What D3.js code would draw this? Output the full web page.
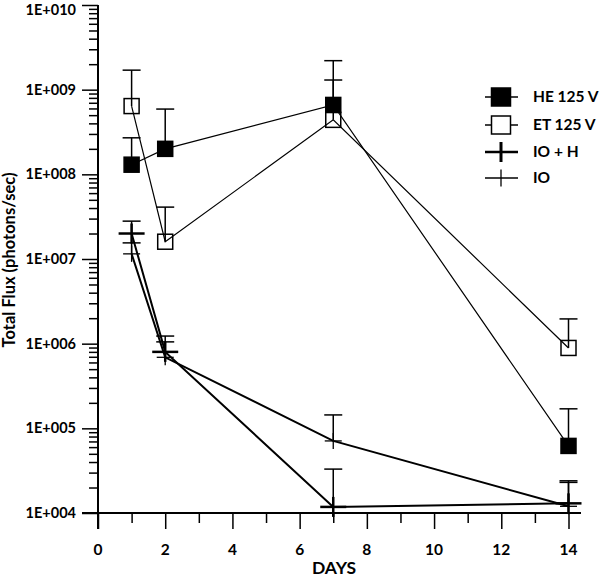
<!DOCTYPE html>
<html>
<head>
<meta charset="utf-8">
<script src="https://cdn.jsdelivr.net/npm/d3@7"></script>
<style>
  body { margin: 0; background: #fff; }
  text { font-family: Lato, "Liberation Sans", sans-serif; font-weight: bold; fill: #000; }
</style>
</head>
<body>
<div id="chart"></div>
<script>
var days = [1, 2, 7, 14];
var xTicks = [0, 2, 4, 6, 8, 10, 12, 14];
var yTickLabels = ["1E+004", "1E+005", "1E+006", "1E+007", "1E+008", "1E+009", "1E+010"];

// value and top of the error bar for each day
var heValues = [1.3e8, 2.0e8, 6.6e8, 6.2e4];
var heErrTop = [2.7e8, 5.9e8, 2.2e9, 1.7e5];
var etValues = [6.4e8, 1.6e7, 4.4e8, 8.9e5];
var etErrTop = [1.7e9, 4.1e7, 1.3e9, 1.96e6];
var iohValues = [2.0e7, 8.0e5, 1.18e4, 1.3e4];
var iohErrTop = [2.8e7, 1.23e6, 3.3e4, 2.4e4];
var ioValues = [1.15e7, 6.9e5, 7.1e4, 1.2e4];
var ioErrTop = [1.55e7, 1.05e6, 1.44e5, 2.3e4];

var seriesNames = ["HE 125 V", "ET 125 V", "IO + H", "IO"];

var width = 600, height = 580;

var svg = d3.select("#chart").append("svg")
  .attr("width", width)
  .attr("height", height);

var x = d3.scaleLinear().domain([0, 14]).range([98, 568.5]);
var y = d3.scaleLog().domain([1e4, 1e10]).range([513, 5]);

// y axis with log minor ticks
var yAxis = d3.axisLeft(y)
  .tickValues(y.ticks())
  .tickSize(9)
  .tickSizeOuter(0)
  .tickFormat("");
var gy = svg.append("g").attr("transform", "translate(98,0)").call(yAxis);
gy.select(".domain").remove();
gy.selectAll(".tick line").attr("stroke", "#000").attr("stroke-width", 1.5)
  .attr("x2", (d) => (Math.abs(Math.log10(d) % 1) < 1e-9 ? -16 : -9));
svg.append("line")
  .attr("x1", 98).attr("x2", 98).attr("y1", 5).attr("y2", 529)
  .attr("stroke", "#000").attr("stroke-width", 2);

yTickLabels.forEach(function (t, i) {
  svg.append("text")
    .attr("x", 76)
    .attr("y", Math.max(y(Math.pow(10, 4 + i)), 10))
    .attr("dy", "0.35em")
    .attr("text-anchor", "end")
    .attr("font-size", 14.5)
    .text(t);
});

// x axis
var xAxis = d3.axisBottom(x)
  .tickValues(d3.range(0, 15))
  .tickSizeOuter(0)
  .tickFormat("");
var gx = svg.append("g").attr("transform", "translate(0,513)").call(xAxis);
gx.select(".domain").remove();
gx.selectAll(".tick line").attr("stroke", "#000").attr("stroke-width", 1.5)
  .attr("y2", (d) => (d % 2 == 0 ? 16 : 10));
svg.append("line")
  .attr("x1", 82).attr("x2", 581).attr("y1", 513).attr("y2", 513)
  .attr("stroke", "#000").attr("stroke-width", 2);

svg.selectAll(".xlabel")
  .data(xTicks)
  .enter()
  .append("text")
  .attr("class", "xlabel")
  .attr("x", (d) => x(d))
  .attr("y", 550)
  .attr("dy", "0.35em")
  .attr("text-anchor", "middle")
  .attr("font-size", 15.5)
  .text((d) => d);

svg.append("text")
  .attr("x", 334).attr("y", 568)
  .attr("dy", "0.35em")
  .attr("text-anchor", "middle")
  .attr("font-size", 17.5)
  .text("DAYS");

svg.append("text")
  .attr("transform", "translate(15,260) rotate(-90)")
  .attr("text-anchor", "middle")
  .attr("font-size", 16.5)
  .text("Total Flux (photons/sec)");

var line = d3.line().x((d) => x(d[0])).y((d) => y(d[1]));

function drawSeries(vals, tops, lineWidth) {
  var pts = days.map((d, i) => [d, vals[i], tops[i]]);
  svg.append("path")
    .datum(pts)
    .attr("d", line)
    .attr("fill", "none")
    .attr("stroke", "#000")
    .attr("stroke-width", lineWidth);
  var g = svg.append("g");
  pts.forEach(function (p) {
    g.append("line")
      .attr("x1", x(p[0])).attr("x2", x(p[0]))
      .attr("y1", y(p[1])).attr("y2", y(p[2]))
      .attr("stroke", "#000").attr("stroke-width", 1.5);
    g.append("line")
      .attr("x1", x(p[0]) - 9).attr("x2", x(p[0]) + 9)
      .attr("y1", y(p[2])).attr("y2", y(p[2]))
      .attr("stroke", "#000").attr("stroke-width", 1.5);
  });
  return pts;
}

var he = drawSeries(heValues, heErrTop, 1.2);
var et = drawSeries(etValues, etErrTop, 1.2);
var ioh = drawSeries(iohValues, iohErrTop, 2);
var io = drawSeries(ioValues, ioErrTop, 2);

function squares(pts, fill) {
  svg.selectAll(null)
    .data(pts)
    .enter()
    .append("rect")
    .attr("x", (d) => x(d[0]) - 7.5)
    .attr("y", (d) => y(d[1]) - 7.5)
    .attr("width", 15)
    .attr("height", 15)
    .attr("fill", fill)
    .attr("stroke", "#000")
    .attr("stroke-width", 1.5);
}
squares(he, "#000");
squares(et, "none");

function plus(pts, w, h, sw) {
  pts.forEach(function (d) {
    var cx = x(d[0]), cy = y(d[1]);
    svg.append("line")
      .attr("x1", cx - w / 2).attr("x2", cx + w / 2)
      .attr("y1", cy).attr("y2", cy)
      .attr("stroke", "#000").attr("stroke-width", sw);
    svg.append("line")
      .attr("x1", cx).attr("x2", cx)
      .attr("y1", cy - h / 2).attr("y2", cy + h / 2)
      .attr("stroke", "#000").attr("stroke-width", sw);
  });
}
plus(ioh, 26, 20, 2.5);
plus(io, 17, 16, 1.3);

// legend
var legend = svg.append("g").attr("transform", "translate(501,0)");
var legendY = [97, 125, 152, 178];
seriesNames.forEach(function (name, i) {
  var ly = legendY[i];
  legend.append("line")
    .attr("x1", -16).attr("x2", 17).attr("y1", ly).attr("y2", ly)
    .attr("stroke", "#000").attr("stroke-width", i == 2 ? 2.5 : 1.5);
  if (i < 2) {
    legend.append("rect")
      .attr("x", -9.5).attr("y", ly - 9)
      .attr("width", 19).attr("height", 18)
      .attr("fill", i == 0 ? "#000" : "#fff")
      .attr("stroke", "#000").attr("stroke-width", 1.5);
  } else {
    var hh = i == 2 ? 10 : 8.5;
    legend.append("line")
      .attr("x1", 0).attr("x2", 0).attr("y1", ly - hh).attr("y2", ly + hh)
      .attr("stroke", "#000").attr("stroke-width", i == 2 ? 3 : 1.3);
  }
  legend.append("text")
    .attr("x", 32).attr("y", ly)
    .attr("dy", "0.35em")
    .attr("font-size", 15.5)
    .text(name);
});
</script>
</body>
</html>
